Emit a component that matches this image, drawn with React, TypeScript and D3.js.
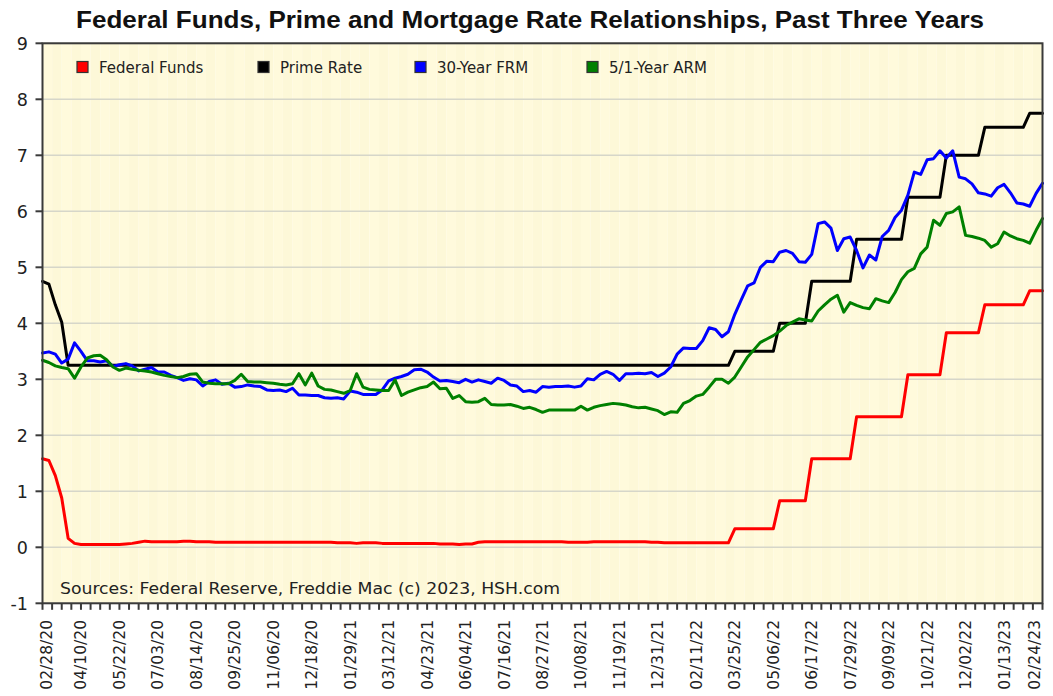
import React from "react";
import * as d3 from "d3";

const tickLabels = ["02/28/20","04/10/20","05/22/20","07/03/20","08/14/20","09/25/20","11/06/20","12/18/20","01/29/21","03/12/21","04/23/21","06/04/21","07/16/21","08/27/21","10/08/21","11/19/21","12/31/21","02/11/22","03/25/22","05/06/22","06/17/22","07/29/22","09/09/22","10/21/22","12/02/22","01/13/23","02/24/23"];

const yTicks = [-1, 0, 1, 2, 3, 4, 5, 6, 7, 8, 9];

const fedFunds = [
  1.58, 1.55, 1.28, 0.88, 0.16, 0.07, 0.05, 0.05, 0.05, 0.05,
  0.05, 0.05, 0.05, 0.06, 0.07, 0.09, 0.11, 0.10, 0.10, 0.10,
  0.10, 0.10, 0.11, 0.11, 0.10, 0.10, 0.10, 0.09, 0.09, 0.09,
  0.09, 0.09, 0.09, 0.09, 0.09, 0.09, 0.09, 0.09, 0.09, 0.09,
  0.09, 0.09, 0.09, 0.09, 0.09, 0.09, 0.08, 0.08, 0.08, 0.07,
  0.08, 0.08, 0.08, 0.07, 0.07, 0.07, 0.07, 0.07, 0.07, 0.07,
  0.07, 0.07, 0.06, 0.06, 0.06, 0.05, 0.06, 0.06, 0.09, 0.10,
  0.10, 0.10, 0.10, 0.10, 0.10, 0.10, 0.10, 0.10, 0.10, 0.10,
  0.10, 0.10, 0.09, 0.09, 0.09, 0.09, 0.10, 0.10, 0.10, 0.10,
  0.10, 0.10, 0.10, 0.10, 0.10, 0.09, 0.09, 0.08, 0.08, 0.08,
  0.08, 0.08, 0.08, 0.08, 0.08, 0.08, 0.08, 0.08,
  0.33, 0.33, 0.33, 0.33, 0.33, 0.33, 0.33,
  0.83, 0.83, 0.83, 0.83, 0.83,
  1.58, 1.58, 1.58, 1.58, 1.58, 1.58, 1.58,
  2.33, 2.33, 2.33, 2.33, 2.33, 2.33, 2.33, 2.33,
  3.08, 3.08, 3.08, 3.08, 3.08, 3.08,
  3.83, 3.83, 3.83, 3.83, 3.83, 3.83,
  4.33, 4.33, 4.33, 4.33, 4.33, 4.33, 4.33,
  4.58, 4.58, 4.58,
];

const primeRate = [
  4.75, 4.70, 4.33, 4.02, 3.25, 3.25, 3.25, 3.25, 3.25, 3.25,
  3.25, 3.25, 3.25, 3.25, 3.25, 3.25, 3.25, 3.25, 3.25, 3.25,
  3.25, 3.25, 3.25, 3.25, 3.25, 3.25, 3.25, 3.25, 3.25, 3.25,
  3.25, 3.25, 3.25, 3.25, 3.25, 3.25, 3.25, 3.25, 3.25, 3.25,
  3.25, 3.25, 3.25, 3.25, 3.25, 3.25, 3.25, 3.25, 3.25, 3.25,
  3.25, 3.25, 3.25, 3.25, 3.25, 3.25, 3.25, 3.25, 3.25, 3.25,
  3.25, 3.25, 3.25, 3.25, 3.25, 3.25, 3.25, 3.25, 3.25, 3.25,
  3.25, 3.25, 3.25, 3.25, 3.25, 3.25, 3.25, 3.25, 3.25, 3.25,
  3.25, 3.25, 3.25, 3.25, 3.25, 3.25, 3.25, 3.25, 3.25, 3.25,
  3.25, 3.25, 3.25, 3.25, 3.25, 3.25, 3.25, 3.25, 3.25, 3.25,
  3.25, 3.25, 3.25, 3.25, 3.25, 3.25, 3.25, 3.25,
  3.50, 3.50, 3.50, 3.50, 3.50, 3.50, 3.50,
  4.00, 4.00, 4.00, 4.00, 4.00,
  4.75, 4.75, 4.75, 4.75, 4.75, 4.75, 4.75,
  5.50, 5.50, 5.50, 5.50, 5.50, 5.50, 5.50, 5.50,
  6.25, 6.25, 6.25, 6.25, 6.25, 6.25,
  7.00, 7.00, 7.00, 7.00, 7.00, 7.00,
  7.50, 7.50, 7.50, 7.50, 7.50, 7.50, 7.50,
  7.75, 7.75, 7.75,
];

const frm30 = [
  3.47, 3.49,
  3.45, 3.29, 3.36, 3.65, 3.50, 3.33, 3.33, 3.31, 3.33, 3.23,
  3.26, 3.28, 3.24, 3.15, 3.18, 3.21, 3.13, 3.13, 3.07, 3.03,
  2.98, 3.01, 2.99, 2.88, 2.96, 2.99, 2.91, 2.93, 2.86, 2.87,
  2.90, 2.88, 2.87, 2.81, 2.80, 2.81, 2.78, 2.84, 2.72, 2.72,
  2.71, 2.71, 2.67, 2.66, 2.67, 2.65, 2.79, 2.77, 2.73, 2.73,
  2.73, 2.81, 2.97, 3.02, 3.05, 3.09, 3.17, 3.18, 3.13, 3.04,
  2.97, 2.98, 2.96, 2.94, 3.00, 2.95, 2.99, 2.96, 2.93, 3.02,
  2.98, 2.90, 2.88, 2.78, 2.80, 2.77, 2.87, 2.86, 2.87, 2.87,
  2.88, 2.86, 2.88, 3.01, 2.99,
  3.09, 3.14, 3.09, 2.98, 3.10, 3.10, 3.11, 3.10, 3.12, 3.05, 3.11,
  3.22, 3.45, 3.56, 3.55, 3.55, 3.69, 3.92, 3.89, 3.76, 3.85,
  4.16, 4.42, 4.67, 4.72, 5.00, 5.11, 5.10, 5.27, 5.30, 5.25,
  5.10, 5.09, 5.23, 5.78, 5.81, 5.70, 5.30, 5.51, 5.54, 5.30,
  4.99, 5.22, 5.13, 5.55, 5.66, 5.89, 6.02, 6.29, 6.70, 6.66,
  6.92, 6.94, 7.08, 6.95, 7.08, 6.61, 6.58, 6.49, 6.33, 6.31,
  6.27, 6.42, 6.48, 6.33, 6.15, 6.13, 6.09,
  6.32, 6.50,
];

const arm51 = [
  3.34, 3.30, 3.24, 3.21, 3.19, 3.02, 3.22, 3.38, 3.42, 3.43,
  3.35, 3.22, 3.16, 3.20, 3.18, 3.16, 3.15, 3.13, 3.10, 3.07,
  3.05, 3.03, 3.05, 3.09, 3.10, 2.95, 2.93, 2.92, 2.92, 2.92,
  2.98, 3.09, 2.96, 2.95, 2.95, 2.94, 2.93, 2.91, 2.90, 2.92,
  3.10, 2.90, 3.11, 2.88, 2.82, 2.81, 2.78, 2.75, 2.80, 3.10,
  2.86, 2.82, 2.81, 2.80, 2.80, 2.99, 2.71, 2.77, 2.81, 2.85,
  2.87, 2.95, 2.83, 2.84, 2.66, 2.71, 2.60, 2.59, 2.60, 2.66,
  2.55, 2.54, 2.54, 2.55, 2.52, 2.48, 2.50, 2.46, 2.41, 2.45,
  2.45, 2.45, 2.45, 2.45, 2.52, 2.45, 2.50, 2.53, 2.55, 2.57,
  2.56, 2.54, 2.51, 2.49, 2.50, 2.47, 2.44, 2.37, 2.42, 2.41,
  2.57, 2.62, 2.70, 2.73, 2.86, 3.00, 3.00, 2.93, 3.04, 3.22,
  3.40, 3.53, 3.66, 3.72, 3.78, 3.86, 3.96, 4.02, 4.08, 4.06,
  4.04, 4.22, 4.33, 4.43, 4.50, 4.20, 4.37, 4.32, 4.28, 4.26,
  4.44, 4.40, 4.37, 4.55, 4.78, 4.92, 4.98, 5.24, 5.36, 5.84,
  5.75, 5.96, 5.99, 6.08, 5.57, 5.55, 5.52, 5.48, 5.36, 5.42,
  5.63, 5.56, 5.51, 5.48, 5.43, 5.66, 5.87,
];

const seriesNames = ["Federal Funds", "Prime Rate", "30-Year FRM", "5/1-Year ARM"];
const seriesColors = ["#ff0000", "#000000", "#0000ff", "#008000"];
const seriesData = [fedFunds, primeRate, frm30, arm51];
const legendX = [77, 258, 415, 587];

const title = "Federal Funds, Prime and Mortgage Rate Relationships, Past Three Years";
const sourceText = "Sources: Federal Reserve, Freddie Mac (c) 2023, HSH.com";

export default function App() {
  const W = 1053, H = 696;
  const left = 42.5, right = 1042.5, top = 43.3, bottom = 603.3;
  const nWeeks = frm30.length - 1;
  const x = d3.scaleLinear().domain([0, nWeeks]).range([left, right]);
  const y = d3.scaleLinear().domain([-1, 9]).range([bottom, top]);
  const line = d3.line<number>().x((_, i) => x(i)).y((d) => y(d));

  const minorTicks = d3.range(0, nWeeks + 0.001, 1.5);
  const labelStep = nWeeks / (tickLabels.length - 1);
  const font = "'DejaVu Sans', sans-serif";

  const stripes = minorTicks.slice(0, -1).map((t, i) => (
    <rect key={"s" + i} x={x(t)} y={top} width={x(t + 1.5) - x(t)} height={bottom - top}
      fill={i % 2 === 0 ? "#fffadc" : "#fdf8d8"} />
  ));

  return (
    <svg width={W} height={H} style={{ position: "absolute", left: 0, top: 0, background: "#fff" }}
      xmlns="http://www.w3.org/2000/svg">
      <rect x={0} y={0} width={W} height={H} fill="#ffffff" />
      <text x={530} y={28} textAnchor="middle"
        fontFamily="'Liberation Sans Narrow', 'Liberation Sans', Arial, sans-serif"
        fontWeight="bold" fontSize={24} fill="#111" textLength={908} lengthAdjust="spacingAndGlyphs">
        {title}
      </text>
      {stripes}
      {yTicks.map((t) => (
        <line key={"g" + t} x1={left} x2={right} y1={y(t)} y2={y(t)} stroke="#d6d6c9" strokeWidth={1.5} />
      ))}
      {seriesData.map((d, k) => (
        <path key={"p" + k} d={line(d) || ""} fill="none" stroke={seriesColors[k]} strokeWidth={3}
          strokeLinejoin="round" strokeLinecap="round" />
      ))}
      <rect x={left} y={top} width={right - left} height={bottom - top} fill="none" stroke="#3a3a3a" strokeWidth={2} />
      {yTicks.map((t) => (
        <g key={"yt" + t}>
          <line x1={left - 7} x2={left} y1={y(t)} y2={y(t)} stroke="#3a3a3a" strokeWidth={2} />
          <text x={28} y={y(t)} dy="0.36em" textAnchor="end" fontFamily={font} fontSize={17.5} fill="#222">{t}</text>
        </g>
      ))}
      {minorTicks.map((t, i) => (
        <line key={"xt" + i} x1={x(t)} x2={x(t)} y1={bottom} y2={bottom + 6.5} stroke="#3a3a3a" strokeWidth={2} />
      ))}
      {tickLabels.map((lab, i) => {
        const base = x(i * labelStep) + 5.5;
        const px = Math.min(Math.max(base, 51.5), 1040);
        return (
          <text key={"xl" + i} transform={`translate(${px},620) rotate(-90)`} textAnchor="end"
            fontFamily={font} fontSize={15.5} fill="#222">{lab}</text>
        );
      })}
      {seriesNames.map((name, k) => (
        <g key={"l" + k}>
          <rect x={legendX[k]} y={61.5} width={11} height={11} fill={seriesColors[k]} stroke="#333" strokeWidth={1.2} />
          <text x={legendX[k] + 22} y={73} fontFamily={font} fontSize={15} fill="#222">{name}</text>
        </g>
      ))}
      <text x={60} y={594} fontFamily={font} fontSize={15} fill="#222" textLength={500} lengthAdjust="spacingAndGlyphs">
        {sourceText}
      </text>
    </svg>
  );
}
